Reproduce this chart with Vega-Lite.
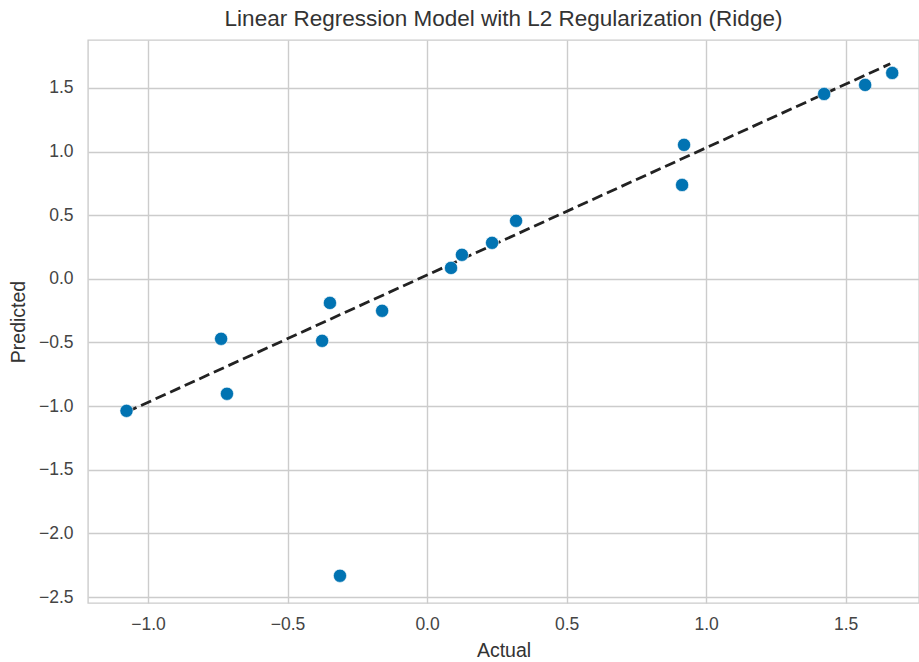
{
  "$schema": "https://vega.github.io/schema/vega-lite/v6.json",
  "width": 831,
  "height": 563,
  "autosize": "none",
  "padding": {"left": 88, "top": 40, "right": 0, "bottom": 59},
  "background": "white",
  "title": {"text": "Linear Regression Model with L2 Regularization (Ridge)", "font": "Liberation Sans", "fontSize": 22.5, "fontWeight": "normal", "color": "#333333", "offset": 10, "anchor": "middle"},
  "config": {
    "view": {"stroke": "#cccccc", "strokeWidth": 1.4},
    "axis": {"labelFont": "Liberation Sans", "titleFont": "Liberation Sans", "labelFontSize": 17.5, "titleFontSize": 19.5, "titleFontWeight": "normal", "labelColor": "#444444", "titleColor": "#333333", "gridColor": "#cccccc", "gridWidth": 1.4, "domain": false, "ticks": false}
  },
  "datasets": {
    "pts": [
      {"actual": -1.077, "predicted": -1.037},
      {"actual": -0.738, "predicted": -0.471},
      {"actual": -0.717, "predicted": -0.903},
      {"actual": -0.348, "predicted": -0.189},
      {"actual": -0.376, "predicted": -0.487},
      {"actual": -0.312, "predicted": -2.333},
      {"actual": -0.161, "predicted": -0.251},
      {"actual": 0.086, "predicted": 0.086},
      {"actual": 0.125, "predicted": 0.189},
      {"actual": 0.233, "predicted": 0.283},
      {"actual": 0.319, "predicted": 0.456},
      {"actual": 0.921, "predicted": 1.053},
      {"actual": 0.914, "predicted": 0.738},
      {"actual": 1.423, "predicted": 1.453},
      {"actual": 1.570, "predicted": 1.524},
      {"actual": 1.667, "predicted": 1.618}
    ],
    "ref": [
      {"actual": -1.077, "predicted": -1.047},
      {"actual": 1.660, "predicted": 1.690}
    ]
  },
  "layer": [
    {
      "data": {"name": "ref"},
      "mark": {"type": "line", "color": "#222222", "strokeWidth": 2.8, "strokeDash": [11, 5]},
      "encoding": {
        "x": {"field": "actual", "type": "quantitative"},
        "y": {"field": "predicted", "type": "quantitative"}
      }
    },
    {
      "data": {"name": "pts"},
      "mark": {"type": "circle", "color": "#0173B2", "opacity": 1, "size": 175, "stroke": "white", "strokeWidth": 0.6},
      "encoding": {
        "x": {"field": "actual", "type": "quantitative", "title": "Actual",
              "scale": {"domain": [-1.215, 1.763], "nice": false, "zero": false},
              "axis": {"values": [-1.0, -0.5, 0.0, 0.5, 1.0, 1.5], "labelExpr": "replace(format(datum.value, '.1f'), '-', '\u2212')", "labelPadding": 12, "titlePadding": 9}},
        "y": {"field": "predicted", "type": "quantitative", "title": "Predicted",
              "scale": {"domain": [-2.547, 1.877], "nice": false, "zero": false},
              "axis": {"values": [-2.5, -2.0, -1.5, -1.0, -0.5, 0.0, 0.5, 1.0, 1.5], "labelExpr": "replace(format(datum.value, '.1f'), '-', '\u2212')", "labelPadding": 15, "titlePadding": 10}}
      }
    }
  ]
}
